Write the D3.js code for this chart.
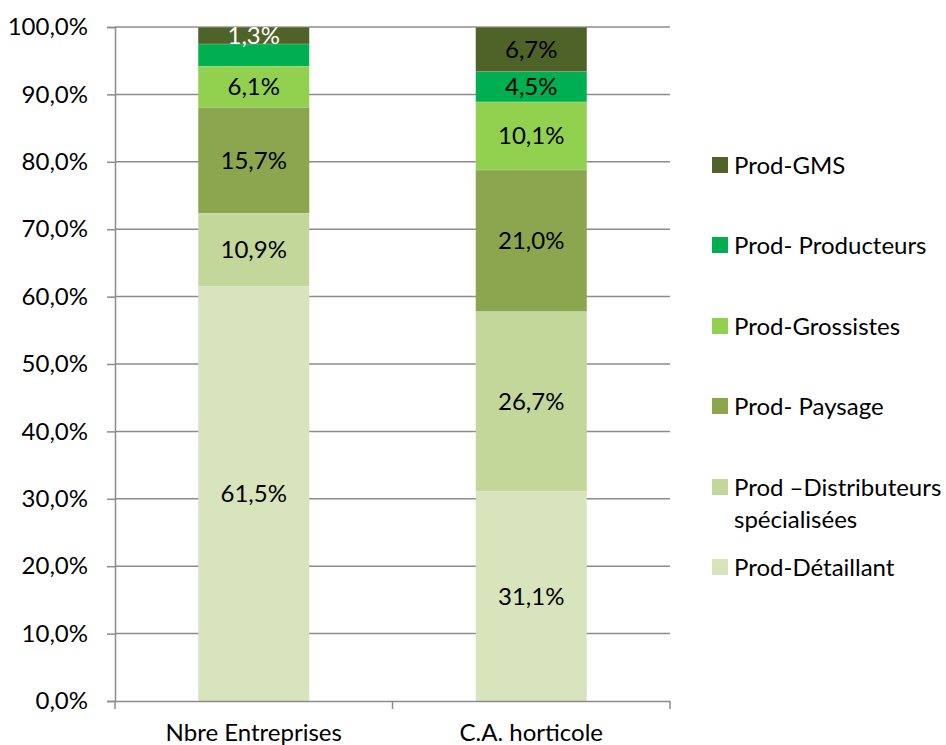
<!DOCTYPE html>
<html>
<head>
<meta charset="utf-8">
<script src="https://cdn.jsdelivr.net/npm/d3@7"></script>
<style>
	body { margin: 0; background: #fff; }
	text { font-family: Lato, "Open Sans", sans-serif; }
</style>
</head>
<body>
<svg id="chart" width="946" height="745"></svg>
<script>
var categories = ["Nbre Entreprises", "C.A. horticole"];
var seriesNames = ["Prod-Détaillant", "Prod –Distributeurs spécialisées", "Prod- Paysage", "Prod-Grossistes", "Prod- Producteurs", "Prod-GMS"];
var seriesColors = ["#d8e4bc", "#c4d79b", "#8ba64f", "#92d050", "#00b050", "#4f6228"];
// heights, per category
var nbreEntreprises = [61.5, 10.9, 15.7, 6.1, 3.3, 2.5];
var caHorticole = [31.1, 26.7, 21.0, 10.1, 4.5, 6.6];
// printed labels (null = no label)
var labelsNbre = ["61,5%", "10,9%", "15,7%", "6,1%", null, "1,3%"];
var labelsCA = ["31,1%", "26,7%", "21,0%", "10,1%", "4,5%", "6,7%"];
var yTicks = [0, 10, 20, 30, 40, 50, 60, 70, 80, 90, 100];
var legendOrder = [5, 4, 3, 2, 1, 0];

var svg = d3.select("#chart");
var plotLeft = 115, plotRight = 670, plotTop = 27, plotBottom = 701;
var fontSize = "24px";

var rows = [nbreEntreprises, caHorticole].map(function(vals, i)
{
	var r = { cat: categories[i], labels: i === 0 ? labelsNbre : labelsCA };
	seriesNames.forEach(function(s, j) { r[j] = vals[j]; });
	return r;
});

var stack = d3.stack().keys(d3.range(seriesNames.length));
var layers = stack(rows);

var x = d3.scaleBand().domain(categories).range([plotLeft, plotRight]).paddingInner(0.6).paddingOuter(0.3);
var y = d3.scaleLinear().domain([0, 100]).range([plotBottom, plotTop]);

// gridlines
svg.append("g")
	.selectAll("line").data(yTicks.slice(1)).enter().append("line")
	.attr("x1", plotLeft).attr("x2", plotRight)
	.attr("y1", function(d) { return y(d); })
	.attr("y2", function(d) { return y(d); })
	.attr("stroke", "#8c8c8c").attr("stroke-width", 1.5);

// bars
var groups = svg.append("g").selectAll("g.layer").data(layers).enter().append("g")
	.classed("layer", 1)
	.attr("fill", function(d, i) { return seriesColors[i]; });

groups.selectAll("rect").data(function(d) { return d; }).enter().append("rect")
	.attr("x", function(d) { return x(d.data.cat); })
	.attr("width", x.bandwidth())
	.attr("y", function(d) { return y(d[1]); })
	.attr("height", function(d) { return y(d[0]) - y(d[1]); });

// thin light seams between segments
groups.selectAll("line").data(function(d) { return d; }).enter().append("line")
	.attr("x1", function(d) { return x(d.data.cat); })
	.attr("x2", function(d) { return x(d.data.cat) + x.bandwidth(); })
	.attr("y1", function(d) { return y(d[1]); })
	.attr("y2", function(d) { return y(d[1]); })
	.attr("stroke", "rgba(255,255,255,0.35)").attr("stroke-width", 1);

// labels
layers.forEach(function(layer, j)
{
	layer.forEach(function(d)
	{
		var txt = d.data.labels[j];
		if (!txt) return;
		svg.append("text")
			.attr("x", x(d.data.cat) + x.bandwidth() / 2)
			.attr("y", (y(d[0]) + y(d[1])) / 2)
			.attr("dy", "0.36em")
			.attr("text-anchor", "middle")
			.attr("font-size", fontSize)
			.attr("fill", (j === 5 && d.data.cat === categories[0]) ? "#fff" : "#000")
			.text(txt);
	});
});

// y axis
var yAxis = d3.axisLeft(y).tickValues(yTicks).tickSize(8).tickPadding(19)
	.tickFormat(function(d) { return d3.format(".1f")(d).replace(".", ",") + "%"; });
var gy = svg.append("g").attr("transform", "translate(" + plotLeft + ",0)").call(yAxis);
gy.select(".domain").attr("stroke", "#8c8c8c").attr("stroke-width", 1.5);
gy.selectAll(".tick line").attr("stroke", "#8c8c8c").attr("stroke-width", 1.5);
gy.selectAll(".tick text").attr("font-size", fontSize).attr("fill", "#000").attr("font-family", "Lato, sans-serif");

// x axis
var xAxis = d3.axisBottom(x).tickSize(0).tickPadding(23);
var gx = svg.append("g").attr("transform", "translate(0," + plotBottom + ")").call(xAxis);
gx.select(".domain").attr("stroke", "#8c8c8c").attr("stroke-width", 1.5);
gx.selectAll(".tick text").attr("font-size", fontSize).attr("fill", "#000").attr("font-family", "Lato, sans-serif");
gx.selectAll("line.sep").data([plotLeft, (plotLeft + plotRight) / 2, plotRight]).enter().append("line")
	.attr("x1", function(d) { return d; }).attr("x2", function(d) { return d; })
	.attr("y1", 0).attr("y2", 8)
	.attr("stroke", "#8c8c8c").attr("stroke-width", 1.5);

// legend
var legendY = [165, 245, 326, 406, 487, 567];
var legend = svg.append("g").selectAll("g").data(legendOrder).enter().append("g")
	.attr("transform", function(d, i) { return "translate(712," + legendY[i] + ")"; });
legend.append("rect")
	.attr("x", 0).attr("y", -8).attr("width", 16).attr("height", 16)
	.attr("fill", function(d) { return seriesColors[d]; });
legend.append("text")
	.attr("x", 22).attr("y", 0).attr("dy", "0.36em")
	.attr("font-size", fontSize)
	.each(function(d)
	{
		var t = d3.select(this);
		if (d === 1)
		{
			t.append("tspan").attr("x", 22).text("Prod –Distributeurs");
			t.append("tspan").attr("x", 22).attr("dy", "1.35em").text("spécialisées");
		}
		else t.text(seriesNames[d]);
	});
</script>
</body>
</html>
